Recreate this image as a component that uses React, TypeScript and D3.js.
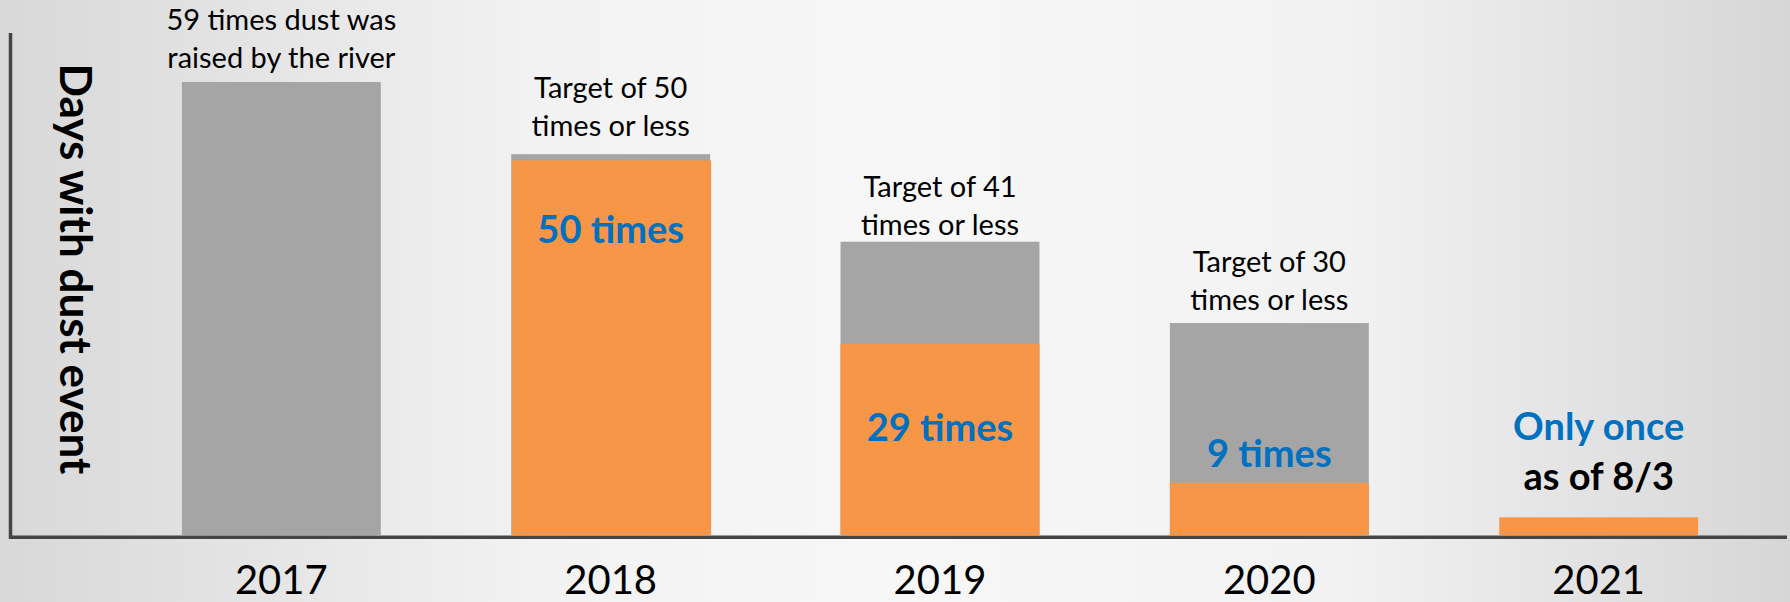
import React from 'react'
import { scaleBand, scaleLinear } from 'd3'

// categories
const years = ['2017', '2018', '2019', '2020', '2021']
// grey bars: the target (2017 = the full count), height as drawn
const targetValues = [59, 49.6, 38.2, 27.6, 0]
// orange bars: actual dust days, height as drawn
const actualValues = [0, 48.8, 24.9, 6.8, 2.3]
// notes above the bars
const topNotes = [
  ['59 times dust was', 'raised by the river'],
  ['Target of 50', 'times or less'],
  ['Target of 41', 'times or less'],
  ['Target of 30', 'times or less'],
  [],
]
const countLabels = ['', '50 times', '29 times', '9 times', 'Only once']
const extraNote = ['', '', '', '', 'as of 8/3']

const W = 1790
const H = 602
const base = 535
const font = 'Lato, "Open Sans", sans-serif'

// baseline of the last note line, measured up from the bar top
const noteGap = [14, 18, 7, 13, 0]
// baseline of the count label in px
const countY = [0, 243, 441, 467, 440]

const App = () => {
  const x = scaleBand().domain(years).range([116, 1764]).paddingInner(0.396).paddingOuter(0.2)
  const y = scaleLinear().domain([0, 59]).range([base, 82])
  const bw = x.bandwidth()

  const greyBars = years.map((yr, i) => targetValues[i] > 0 ? (
    <rect key={'g' + yr} x={x(yr)} y={y(targetValues[i])} width={bw}
      height={base - y(targetValues[i])} fill='#a5a5a5' />
  ) : null)

  const orangeBars = years.map((yr, i) => actualValues[i] > 0 ? (
    <rect key={'o' + yr} x={x(yr)! + (i === 1 ? 1 : 0)} y={y(actualValues[i])} width={bw}
      height={base - y(actualValues[i])} fill='#f79646' />
  ) : null)

  const notes = years.map((yr, i) => {
    const lines = topNotes[i]
    if (!lines.length) return null
    const cx = x(yr)! + bw / 2
    const last = y(targetValues[i]) - noteGap[i]
    return (
      <text key={'n' + yr} x={cx} textAnchor='middle' fontSize={29} fill='#000' fontFamily={font}>
        {lines.map((l, j) => (
          <tspan key={j} x={cx} y={last - (lines.length - 1 - j) * 38}>{l}</tspan>
        ))}
      </text>
    )
  })

  const counts = years.map((yr, i) => countLabels[i] ? (
    <g key={'c' + yr}>
      <text x={x(yr)! + bw / 2} y={countY[i]} textAnchor='middle' fontSize={38}
        fontWeight='bold' fill='#0070c0' fontFamily={font}>{countLabels[i]}</text>
      {extraNote[i] && (
        <text x={x(yr)! + bw / 2} y={countY[i] + 50} textAnchor='middle' fontSize={38}
          fontWeight='bold' fill='#000' fontFamily={font}>{extraNote[i]}</text>
      )}
    </g>
  ) : null)

  const yearLabels = years.map(yr => (
    <text key={'y' + yr} x={x(yr)! + bw / 2} y={594} textAnchor='middle' fontSize={40}
      fill='#000' fontFamily={font}>{yr}</text>
  ))

  return (
    <div style={{ position: 'fixed', left: 0, top: 0 }}>
      <svg width={W} height={H} viewBox={`0 0 ${W} ${H}`} style={{ display: 'block' }}>
        <defs>
          <linearGradient id='bg' x1='0' x2='1' y1='0' y2='0'>
            <stop offset='0' stopColor='#d8d8d8' />
            <stop offset='0.3' stopColor='#f2f2f2' />
            <stop offset='0.5' stopColor='#f7f7f7' />
            <stop offset='0.75' stopColor='#f2f2f2' />
            <stop offset='1' stopColor='#d6d6d6' />
          </linearGradient>
        </defs>
        <rect x={0} y={0} width={W} height={H} fill='url(#bg)' />
        {greyBars}
        {orangeBars}
        <path d={`M10.5,33 V537.3 H1787`} fill='none' stroke='#454545' strokeWidth={3.5} />
        {notes}
        {counts}
        {yearLabels}
        <text transform='translate(60,269) rotate(90)' textAnchor='middle' fontSize={44}
          fontWeight='bold' fill='#000' fontFamily={font}>Days with dust event</text>
      </svg>
    </div>
  )
}

export default App
